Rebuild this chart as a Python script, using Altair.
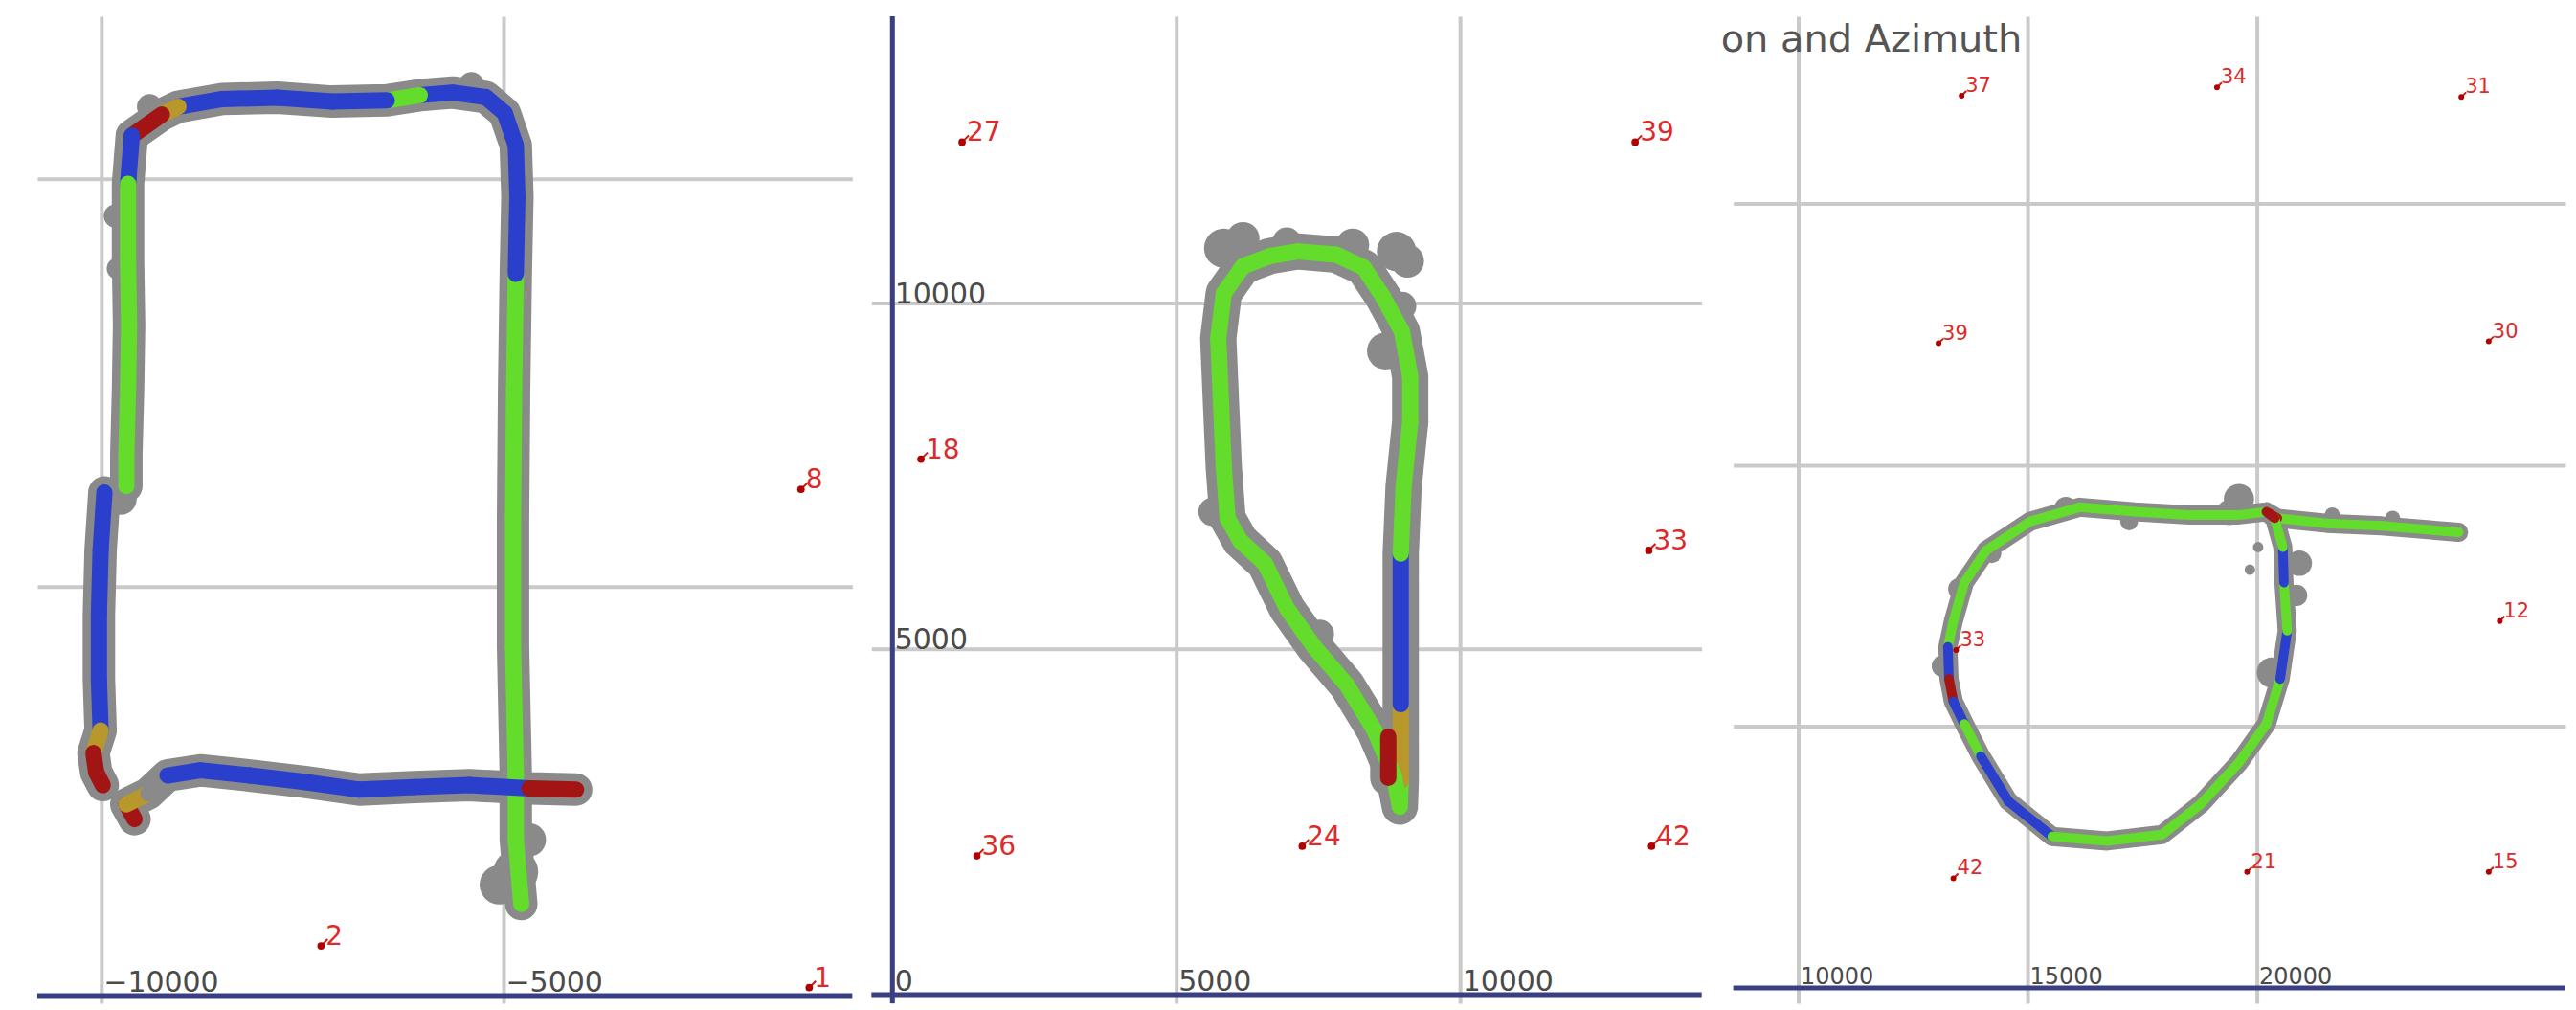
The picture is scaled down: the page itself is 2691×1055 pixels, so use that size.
import altair as alt
import pandas as pd

FONT = "DejaVu Sans"
GRID = "#c9c9c9"
NAVY = "#3a3f84"
LABC = "#4a4a4a"
GRAY = "#8a8a8a"
SEG_COLORS = {"g": "#63dc2c", "b": "#2a40cc", "r": "#a31515", "o": "#b8982a", "n": "#8a8a8a"}

# ---------------- Panel 1 ----------------
P1_X = [-4780, -4848, -4848, -4882, -4882, -4869, -4848, -4828, -4848, -4985, -5223, -5632, -6041,
        -6450, -7132, -7814, -8496, -9041, -9246, -9621, -9668, -9668, -9655, -9668, -9689, -9689,
        -9962, -10009, -10030, -10030, -10009, -10098, -10064, -9982,
        -9587, -9689, -9416, -9178, -8769, -8155, -7473, -6791, -6109, -5428, -4678, -4098]
P1_Y = [1121, 1908, 2695, 4269, 5843, 7417, 8834, 9779, 10408, 10802, 10999, 11054, 11022,
        10959, 10944, 10991, 10975, 10881, 10786, 10526, 9936, 8992, 8204, 7417, 6630, 6237,
        6158, 5450, 4663, 3875, 3246, 2970, 2734, 2577,
        2160, 2341, 2474, 2695, 2758, 2695, 2616, 2522, 2553, 2577, 2537, 2522]
P1_PATH = [0] * 26 + [1] * 8 + [2] * 12
P1_SEG = "ggggggbbbbbbgbbbborbggggg-" + "bbbborr-" + "ronbbbbbbbr-"
P1_BLOB_X = [-4848, -5053, -4678, -9757, -9825, -9800, -5400, -9400]
P1_BLOB_Y = [1514, 1357, 1908, 6079, 9543, 8900, 11150, 10880]
P1_BLOB_S = [2200, 1700, 1200, 1100, 600, 500, 700, 700]
P1_ANC_X = [-1303, -7269, -1201]
P1_ANC_Y = [6197, 609, 97]
P1_ANC_L = ["8", "2", "1"]

# ---------------- Panel 2 ----------------
P2_X = [8940, 8956, 8956, 8956, 9007, 9123, 9123, 8978, 8640, 8302, 7819, 7142, 6659, 6176,
        5838, 5741, 5789, 5838, 5905, 6127, 6562, 6949, 7432, 8012, 8495, 8833, 8940,
        8737, 8737]
P2_Y = [2721, 3094, 4199, 6376, 7352, 8281, 8932, 9583, 10094, 10512, 10698, 10744, 10679, 10531,
        10140, 9490, 8560, 7631, 6887, 6562, 6236, 5586, 5028, 4470, 3820, 3169, 2721,
        3135, 3729]
P2_PATH = [0] * 27 + [1] * 2
P2_SEG = "gob" + "g" * 23 + "-" + "r-"
P2_BLOB_X = [5838, 6176, 6949, 8109, 8882, 9075, 8688, 8978, 9220, 5693, 5644, 6369, 7529, 8302, 8688]
P2_BLOB_Y = [10791, 10930, 10884, 10837, 10744, 10605, 9304, 9954, 8281, 9118, 6980, 6329, 5214, 4098, 3262]
P2_BLOB_S = [1700, 1200, 900, 1200, 1700, 1200, 1500, 900, 700, 900, 900, 900, 900, 900, 700]
P2_ANC_X = [1228, 13086, 503, 13327, 1489, 7220, 13375]
P2_ANC_Y = [12325, 12325, 7742, 6422, 2007, 2147, 2147]
P2_ANC_L = ["27", "39", "18", "33", "36", "24", "42"]

# ---------------- Panel 3 ----------------
P3_X = [24398, 22722, 21524, 20447, 20207, 19609, 18531, 17334, 16136, 15059, 14101, 13622, 13383,
        13263, 13287, 13383, 13622, 13981, 14580, 15538, 16735, 17932, 18771, 19609, 20207, 20507,
        20662, 20590, 20566, 20387, 20207]
P3_Y = [8718, 8841, 8890, 8988, 9111, 9050, 9050, 9111, 9198, 8927, 8373, 7758, 7020,
        6528, 5913, 5482, 5052, 4437, 3576, 2899, 2813, 2936, 3514, 4314, 5052, 5913,
        6836, 7758, 8435, 8988, 9111]
P3_PATH = [0] * 31
P3_SEG = "gggrgggggggggbrbgbbggggggbgbgr-"
P3_BLOB_X = [19609, 19400, 20926, 20866, 20327, 15837, 17214, 13502, 13143, 14221, 22961, 21644, 19848, 20028]
P3_BLOB_Y = [9357, 9100, 8127, 7512, 6036, 9173, 8927, 7635, 6159, 8312, 8988, 9050, 8004, 8435]
P3_BLOB_S = [1000, 700, 700, 500, 1000, 600, 350, 500, 500, 400, 250, 250, 120, 120]
P3_ANC_X = [13562, 19130, 24458, 13059, 25056, 25296, 13442, 13383, 19788, 25056]
P3_ANC_Y = [17071, 17231, 17046, 12335, 12371, 7020, 6466, 2099, 2222, 2222]
P3_ANC_L = ["37", "34", "31", "39", "30", "12", "33", "42", "21", "15"]
P3_TITLE = "on and Azimuth"


def seg_df(xs, ys, paths, codes):
    rows = []
    for i in range(len(xs) - 1):
        if paths[i] != paths[i + 1] or codes[i] == "-":
            continue
        for j, k in ((0, i), (1, i + 1)):
            rows.append({"x": xs[k], "y": ys[k], "s": i, "o": j, "c": SEG_COLORS[codes[i]]})
    return pd.DataFrame(rows)


def make_panel(xs, ys, paths, codes, bx, by, bs, ax, ay, al,
               xdom, ydom, w, h, xvals, show_xlab, yvals, show_ylab,
               gray_w, col_w, lab_fs, anc_fs, dot_size, tail_size, anc_dx, anc_dy,
               vline=False, spacer=0):
    xoff = -h * (0 - ydom[0]) / (ydom[1] - ydom[0])
    yoff = -w * (0 - xdom[0]) / (xdom[1] - xdom[0])
    xaxis = alt.Axis(values=xvals, grid=True, gridColor=GRID, gridWidth=4, domain=False,
                     ticks=False, tickSize=0, labels=show_xlab, labelAlign="left",
                     labelBaseline="alphabetic", labelPadding=-5, labelOffset=2,
                     labelFontSize=lab_fs, labelFont=FONT, labelColor=LABC,
                     labelOverlap=False, labelFlush=False, offset=xoff, title=None, format="d")
    if show_ylab:
        yaxis = alt.Axis(values=yvals, grid=True, gridColor=GRID, gridWidth=4, domain=False,
                         ticks=False, tickSize=0, labels=True, labelAlign="left",
                         labelBaseline="alphabetic", labelPadding=-2,
                         labelFontSize=lab_fs, labelFont=FONT, labelColor=LABC,
                         labelOverlap=False, labelFlush=False, offset=yoff, title=None, format="d")
    elif spacer > 0:
        yaxis = alt.Axis(values=yvals, grid=True, gridColor=GRID, gridWidth=4, domain=False,
                         ticks=True, tickSize=spacer, tickColor="white", labels=False, title=None)
    else:
        yaxis = alt.Axis(values=yvals, grid=True, gridColor=GRID, gridWidth=4, domain=False,
                         ticks=False, tickSize=0, labels=False, title=None)
    X = alt.X("x:Q", scale=alt.Scale(domain=xdom, nice=False, zero=False), axis=xaxis)
    Y = alt.Y("y:Q", scale=alt.Scale(domain=ydom, nice=False, zero=False), axis=yaxis)

    band = pd.DataFrame({"x": xs, "y": ys, "p": paths, "i": list(range(len(xs)))})
    blobs = pd.DataFrame({"x": bx, "y": by, "s": bs})
    anc = pd.DataFrame({"x": ax, "y": ay, "l": al})
    segs = seg_df(xs, ys, paths, codes)

    layers = [
        alt.Chart(band).mark_line(color=GRAY, strokeWidth=gray_w, strokeCap="round",
                                  strokeJoin="round").encode(x=X, y=Y, detail="p:N", order="i:Q"),
        alt.Chart(blobs).mark_circle(color=GRAY, opacity=1).encode(
            x=X, y=Y, size=alt.Size("s:Q", scale=None)),
        alt.Chart(segs).mark_line(strokeWidth=col_w, strokeCap="round", strokeJoin="round").encode(
            x=X, y=Y, detail="s:N", order="o:Q", color=alt.Color("c:N", scale=None)),
        alt.Chart(pd.DataFrame({"y": [0]})).mark_rule(color=NAVY, strokeWidth=5).encode(y=Y),
    ]
    if vline:
        layers.append(alt.Chart(pd.DataFrame({"x": [0]})).mark_rule(color=NAVY, strokeWidth=5).encode(x=X))
    layers += [
        alt.Chart(anc).mark_point(shape="M0,0L1,-1", size=tail_size, color="#cc1a1a",
                                  strokeWidth=2, filled=False, opacity=1).encode(x=X, y=Y),
        alt.Chart(anc).mark_circle(color="#b00000", size=dot_size, opacity=1).encode(x=X, y=Y),
        alt.Chart(anc).mark_text(align="left", baseline="alphabetic", dx=anc_dx, dy=anc_dy,
                                 fontSize=anc_fs, font=FONT, color="#dd2a2a").encode(
            x=X, y=Y, text="l:N"),
    ]
    return layers, w, h


l1, w1, h1 = make_panel(P1_X, P1_Y, P1_PATH, P1_SEG, P1_BLOB_X, P1_BLOB_Y, P1_BLOB_S,
                        P1_ANC_X, P1_ANC_Y, P1_ANC_L,
                        [-10796, -665], [-94, 11988], 853, 1033,
                        [-10000, -5000], True, [5000, 10000], False,
                        34, 17, 30, 28, 60, 196, 5, -1)
p1 = alt.layer(*l1).properties(width=w1, height=h1)

l2, w2, h2 = make_panel(P2_X, P2_Y, P2_PATH, P2_SEG, P2_BLOB_X, P2_BLOB_Y, P2_BLOB_S,
                        P2_ANC_X, P2_ANC_Y, P2_ANC_L,
                        [-370, 14259], [-124, 14144], 869, 1033,
                        [0, 5000, 10000], True, [5000, 10000], True,
                        38, 17, 30, 28, 60, 196, 5, -1, vline=True)
p2 = alt.layer(*l2).properties(width=w2, height=h2)

l3, w3, h3 = make_panel(P3_X, P3_Y, P3_PATH, P3_SEG, P3_BLOB_X, P3_BLOB_Y, P3_BLOB_S,
                        P3_ANC_X, P3_ANC_Y, P3_ANC_L,
                        [8583, 26729], [-293, 18592], 871, 1033,
                        [10000, 15000, 20000], True, [5000, 10000, 15000], False,
                        20, 10, 24, 21, 36, 100, 4, -4, spacer=15)
title3 = alt.Chart(pd.DataFrame({"t": [P3_TITLE]})).mark_text(
    align="left", baseline="alphabetic", fontSize=40, font=FONT, color="#555555"
).encode(x=alt.value(-13), y=alt.value(37), text="t:N")
p3 = alt.layer(*l3, title3).properties(width=w3, height=h3)

chart = alt.hconcat(p1, p2, p3, spacing=14).properties(
    padding={"left": 28, "top": 5, "right": 0, "bottom": 0},
    background="white",
).configure_view(stroke=None)

chart.save("out.html", embed_options={"renderer": "svg", "actions": False})
